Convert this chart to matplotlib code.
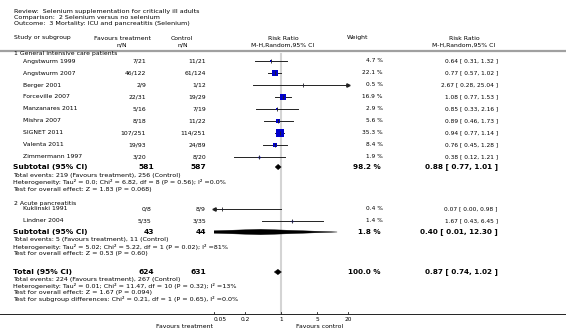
import numpy as np
import matplotlib.pyplot as plt
from matplotlib.patches import Polygon

W, H = 566, 332

title_lines = ["Review:  Selenium supplementation for critically ill adults",
               "Comparison:  2 Selenium versus no selenium",
               "Outcome:  3 Mortality: ICU and pancreatitis (Selenium)"]

# group 1 - general intensive care patients
g1_names = ["Angstwurm 1999", "Angstwurm 2007", "Berger 2001", "Forceville 2007",
            "Manzanares 2011", "Mishra 2007", "SIGNET 2011", "Valenta 2011", "Zimmermann 1997"]
g1_trt = ["7/21", "46/122", "2/9", "22/31", "5/16", "8/18", "107/251", "19/93", "3/20"]
g1_ctl = ["11/21", "61/124", "1/12", "19/29", "7/19", "11/22", "114/251", "24/89", "8/20"]
g1_rr = [0.64, 0.77, 2.67, 1.08, 0.85, 0.89, 0.94, 0.76, 0.38]
g1_lo = [0.31, 0.57, 0.28, 0.77, 0.33, 0.46, 0.77, 0.45, 0.12]
g1_hi = [1.32, 1.02, 25.04, 1.53, 2.16, 1.73, 1.14, 1.28, 1.21]
g1_wt = [4.7, 22.1, 0.5, 16.9, 2.9, 5.6, 35.3, 8.4, 1.9]
g1_sub = ["581", "587", "98.2 %", "0.88 [ 0.77, 1.01 ]"]
g1_sub_est = (0.88, 0.77, 1.01)
g1_notes = ["Total events: 219 (Favours treatment), 256 (Control)",
            "Heterogeneity: Tau\u00b2 = 0.0; Chi\u00b2 = 6.82, df = 8 (P = 0.56); I\u00b2 =0.0%",
            "Test for overall effect: Z = 1.83 (P = 0.068)"]

# group 2 - acute pancreatitis
g2_names = ["Kuklinski 1991", "Lindner 2004"]
g2_trt = ["0/8", "5/35"]
g2_ctl = ["8/9", "3/35"]
g2_rr = [0.07, 1.67]
g2_lo = [0.00, 0.43]
g2_hi = [0.98, 6.45]
g2_wt = [0.4, 1.4]
g2_sub = ["43", "44", "1.8 %", "0.40 [ 0.01, 12.30 ]"]
g2_sub_est = (0.40, 0.01, 12.30)
g2_notes = ["Total events: 5 (Favours treatment), 11 (Control)",
            "Heterogeneity: Tau\u00b2 = 5.02; Chi\u00b2 = 5.22, df = 1 (P = 0.02); I\u00b2 =81%",
            "Test for overall effect: Z = 0.53 (P = 0.60)"]

tot = ["624", "631", "100.0 %", "0.87 [ 0.74, 1.02 ]"]
tot_est = (0.87, 0.74, 1.02)
tot_notes = ["Total events: 224 (Favours treatment), 267 (Control)",
             "Heterogeneity: Tau\u00b2 = 0.01; Chi\u00b2 = 11.47, df = 10 (P = 0.32); I\u00b2 =13%",
             "Test for overall effect: Z = 1.67 (P = 0.094)",
             "Test for subgroup differences: Chi\u00b2 = 0.21, df = 1 (P = 0.65), I\u00b2 =0.0%"]

ticks = [0.05, 0.2, 1, 5, 20]
tick_labels = ["0.05", "0.2", "1", "5", "20"]

fig = plt.figure(figsize=(W / 100, H / 100), dpi=100)
fig.patch.set_facecolor("white")

# text layer in pixel coordinates
tx = fig.add_axes([0, 0, 1, 1])
tx.set_xlim(0, W)
tx.set_ylim(H, 0)
tx.axis("off")

# forest layer, log scale from 0.05 to 20
x0, x1 = 214, 348
fx = fig.add_axes([x0 / W, 0, (x1 - x0) / W, 1])
fx.set_xscale("log")
fx.set_xlim(0.05, 20)
fx.set_ylim(H, 0)
fx.axis("off")
fx.patch.set_alpha(0)

fs = 4.45
fsb = 5.4
fsn = 4.2   # weight / CI columns
fst = 4.6   # titles and footnotes

for i, t in enumerate(title_lines):
    tx.text(14, 11 + 6.5 * i, t, fontsize=fst, va="center")

hy1, hy2 = 38, 45
tx.text(14, hy1, "Study or subgroup", fontsize=fs, va="center")
tx.text(122, hy1, "Favours treatment", fontsize=fs, va="center", ha="center")
tx.text(122, hy2, "n/N", fontsize=fs, va="center", ha="center")
tx.text(182, hy1, "Control", fontsize=fs, va="center", ha="center")
tx.text(183, hy2, "n/N", fontsize=fs, va="center", ha="center")
tx.text(283, hy1, "Risk Ratio", fontsize=fs, va="center", ha="center")
tx.text(283, hy2, "M-H,Random,95% CI", fontsize=fs, va="center", ha="center")
tx.text(358, hy1, "Weight", fontsize=fs, va="center", ha="center")
tx.text(464, hy1, "Risk Ratio", fontsize=fs, va="center", ha="center")
tx.text(464, hy2, "M-H,Random,95% CI", fontsize=fs, va="center", ha="center")
tx.plot([0, W], [50.5, 50.5], color="#a0a0a0", lw=1.6)

# reference line at 1
fx.plot([1, 1], [54, 313], color="#d4d4d4", lw=1.5, zorder=0, clip_on=False)


def study_rows(names, trt, ctl, rr, lo, hi, wt, ys, trt_x):
    for n, a, b, r, l, h, w, y in zip(names, trt, ctl, rr, lo, hi, wt, ys):
        tx.text(23, y, n, fontsize=fs, va="center")
        tx.text(trt_x, y, a, fontsize=fs, va="center", ha="right")
        tx.text(206, y, b, fontsize=fs, va="center", ha="right")
        tx.text(383, y, "%.1f %%" % w, fontsize=fsn, va="center", ha="right")
        tx.text(498, y, "%.2f [ %.2f, %.2f ]" % (r, l, h), fontsize=fsn, va="center", ha="right")
        cl, ch = max(l, 0.05), min(h, 20)
        fx.plot([cl, ch], [y, y], color="#222222", lw=0.7, clip_on=False, zorder=2)
        if h > 20:
            fx.plot([20], [y], marker=">", ms=2.4, color="#222222", clip_on=False, zorder=2)
        if l < 0.05:
            fx.plot([0.05], [y], marker="<", ms=2.4, color="#222222", clip_on=False, zorder=2)
        side = 1.35 * np.sqrt(w) * 0.72
        fx.plot([r], [y], marker="s", ms=side, color="#0000cc", mew=0, clip_on=False, zorder=3)
        fx.plot([r], [y], marker="|", ms=2.4, mew=0.6, color="#222222", clip_on=False, zorder=4)


def diamond(est, y, hh=2.7):
    r, l, h = est
    fx.add_patch(Polygon([(l, y), (r, y - hh), (h, y), (r, y + hh)], closed=True,
                         facecolor="black", edgecolor="black", lw=0.3, zorder=3))


def subtotal(label, vals, est, y, trt_x=154):
    tx.text(13, y, label, fontsize=fsb, va="center", fontweight="bold")
    tx.text(trt_x, y, vals[0], fontsize=fsb, va="center", ha="right", fontweight="bold")
    tx.text(206, y, vals[1], fontsize=fsb, va="center", ha="right", fontweight="bold")
    tx.text(381, y, vals[2], fontsize=fsb - 0.2, va="center", ha="right", fontweight="bold")
    tx.text(498, y, vals[3], fontsize=fsb - 0.2, va="center", ha="right", fontweight="bold")
    diamond(est, y)


def notes(lines, y, step=7):
    for i, t in enumerate(lines):
        tx.text(13, y + step * i, t, fontsize=fst, va="center")


# group 1
tx.text(14, 53.5, "1 General intensive care patients", fontsize=fs, va="center")
ys1 = [61 + 12 * i for i in range(len(g1_names))]
study_rows(g1_names, g1_trt, g1_ctl, g1_rr, g1_lo, g1_hi, g1_wt, ys1, 146)
subtotal("Subtotal (95% CI)", g1_sub, g1_sub_est, 167)
notes(g1_notes, 175)

# group 2
tx.text(14, 203, "2 Acute pancreatitis", fontsize=fs, va="center")
ys2 = [209, 221]
study_rows(g2_names, g2_trt, g2_ctl, g2_rr, g2_lo, g2_hi, g2_wt, ys2, 151)
subtotal("Subtotal (95% CI)", g2_sub, g2_sub_est, 232)
notes(g2_notes, 240)

# overall
subtotal("Total (95% CI)", tot, tot_est, 272)
notes(tot_notes, 279.5, step=6.6)

# bottom axis
tx.plot([0, W], [313.5, 313.5], color="#222222", lw=0.7)
for v, lab in zip(ticks, tick_labels):
    fx.plot([v, v], [311.5, 313.5], color="#222222", lw=0.6, clip_on=False)
    fx.text(v, 319.5, lab, fontsize=fsn, va="center", ha="left" if v == ticks[0] else "center")
tx.text(213, 326.5, "Favours treatment", fontsize=fs, va="center", ha="right")
tx.text(296, 326.5, "Favours control", fontsize=fs, va="center", ha="left")

fig.savefig("out.png", dpi=100)
